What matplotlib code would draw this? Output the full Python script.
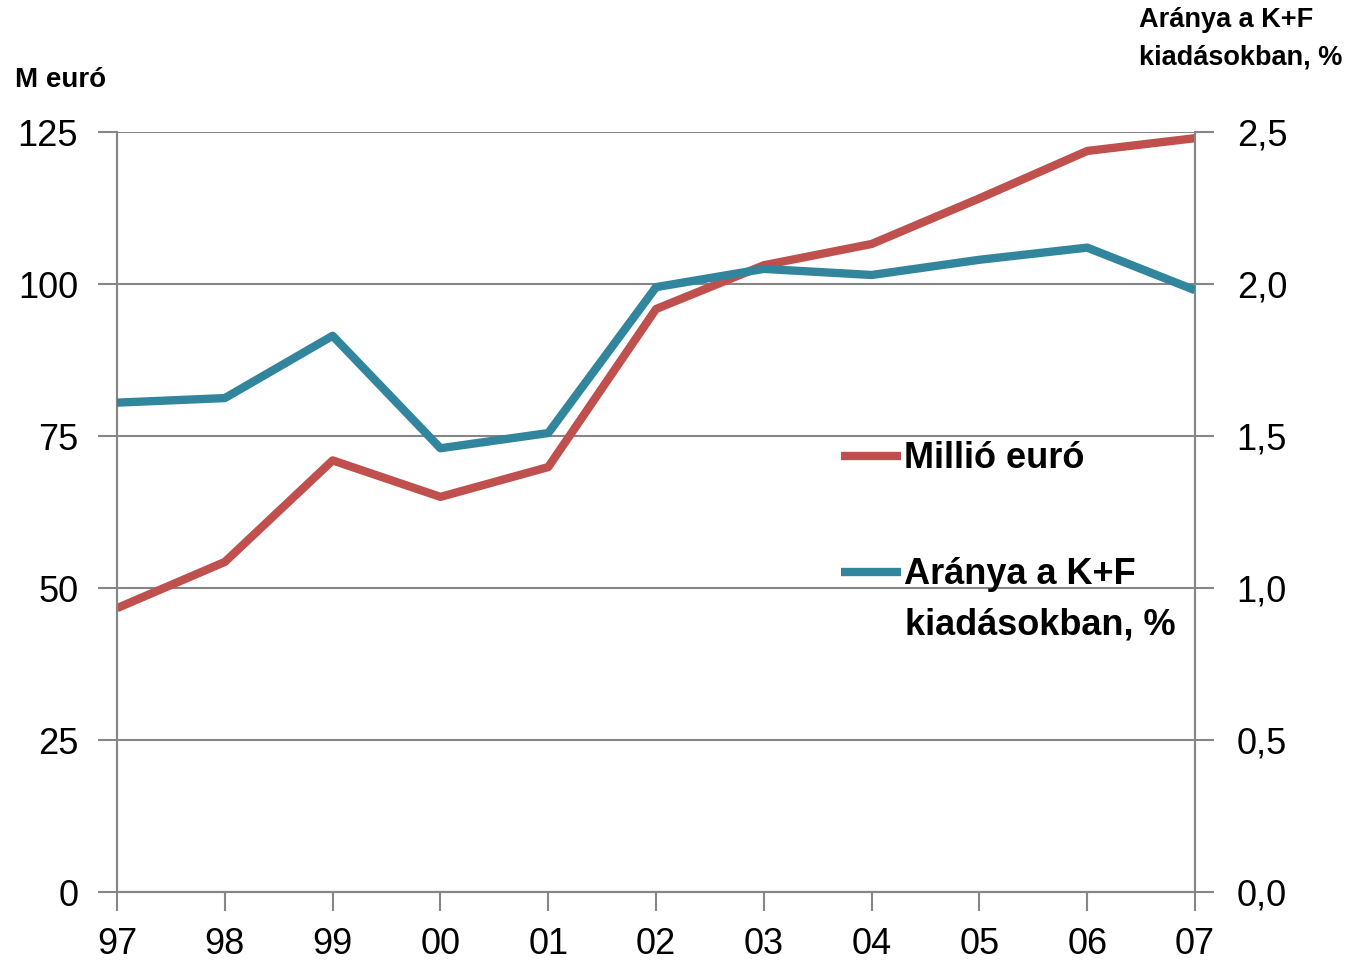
import matplotlib.pyplot as plt
from matplotlib.ticker import FuncFormatter

plt.rcParams['font.family'] = ['Liberation Sans', 'DejaVu Sans']

# years shown as two-digit labels
years = ['97', '98', '99', '00', '01', '02', '03', '04', '05', '06', '07']
million_euro = [46.7, 54.3, 71.0, 65.0, 69.9, 95.9, 103.1, 106.6, 114.1, 121.9, 124.0]
share_pct = [1.61, 1.625, 1.83, 1.46, 1.51, 1.99, 2.05, 2.03, 2.08, 2.12, 1.98]

red = '#C0504D'
blue = '#31859C'
grey = '#868686'

x = list(range(len(years)))

fig = plt.figure(figsize=(13.5, 9.65), dpi=100)
ax = fig.add_axes([0.0867, 0.0756, 0.7985, 0.7875])
ax2 = ax.twinx()

l1, = ax.plot(x, million_euro, color=red, lw=6, solid_capstyle='butt', label='Millió euró', zorder=3)
l2, = ax2.plot(x, share_pct, color=blue, lw=6, solid_capstyle='butt',
               label='Aránya a K+F', zorder=3)

ax.set_xlim(0, 10)
ax.set_ylim(0, 125)
ax.set_yticks([0, 25, 50, 75, 100, 125])
ax2.set_ylim(0, 2.5)
ax2.set_yticks([0, 0.5, 1.0, 1.5, 2.0, 2.5])
ax2.yaxis.set_major_formatter(FuncFormatter(lambda v, p: f'{v:.1f}'.replace('.', ',')))
ax.set_xticks(x)
ax.set_xticklabels(years)

ax.grid(axis='y', color=grey, lw=1.5, zorder=0)
ax.set_axisbelow(True)
for a in (ax, ax2):
    for s in a.spines.values():
        s.set_color(grey)
        s.set_linewidth(1.5)
    a.spines['top'].set_visible(False)
    a.tick_params(colors=grey, length=14, width=1.5, labelsize=26, labelcolor='black')
ax.tick_params(axis='x', pad=11)
ax.tick_params(axis='y', pad=14)
ax2.tick_params(axis='y', pad=16)

fig.text(0.011, 0.917, 'M euró', fontsize=20, fontweight='bold', va='center')
fig.text(0.844, 0.96, 'Aránya a K+F\nkiadásokban, %', fontsize=19.5, fontweight='bold',
         va='center', linespacing=1.55)

ax2.legend(handles=[l1, l2], loc='upper left', bbox_to_anchor=(0.655, 0.617), frameon=False,
           prop={'size': 26, 'weight': 'bold'}, handlelength=1.65, handletextpad=0.1,
           labelspacing=2.25, borderpad=0)
# second line of the blue legend label
ax2.text(0.731, 0.351, 'kiadásokban, %', transform=ax2.transAxes, fontsize=26,
         fontweight='bold', va='center', ha='left')

fig.savefig('out.png', dpi=100)
